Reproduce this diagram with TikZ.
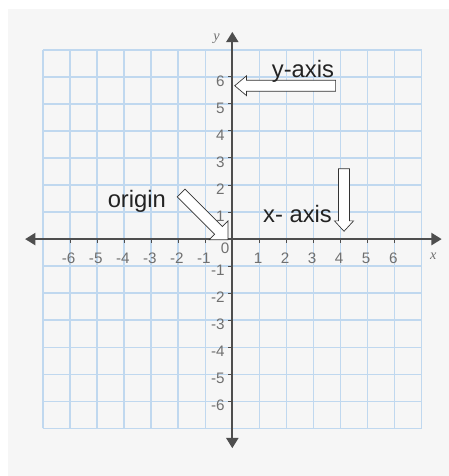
\documentclass[tikz,border=0pt]{standalone}
\usepackage{fontspec}
\setmainfont{Liberation Sans}
\newfontfamily\axisletterfont{Liberation Serif}
\usepackage{tikz}
\usetikzlibrary{shapes.arrows, arrows.meta}
\definecolor{panel}{RGB}{246, 246, 246}
\definecolor{gridblue}{RGB}{192, 216, 239}
\definecolor{axisgray}{RGB}{78, 78, 78}
\definecolor{ticktext}{RGB}{112, 112, 112}
\definecolor{notetext}{RGB}{35, 35, 35}

\begin{document}
\begin{tikzpicture}[
        ticklabel/.style={text=ticktext, font=\fontsize{16}{18}\selectfont, inner sep=0pt},
        note/.style={text=notetext, font=\fontsize{25}{28}\selectfont, inner sep=0pt, anchor=base},
        blockarrow/.style={single arrow, draw=black!80, fill=white, line width=0.7pt, inner xsep=0pt, inner ysep=0.19cm, anchor=tip},
        axistip/.tip={Triangle[length=0.38cm, width=0.45cm]}
    ]
        \useasboundingbox (-8.59,-8.76) rectangle (8.01,8.84);
        \fill[panel] (-8.29,-8.76) rectangle (8.01,8.5);
        \draw[gridblue, line width=1.6pt] (-7,-7) grid (7,7);

        % axes
        \coordinate (xmin) at (-7.66,0);
        \coordinate (xmax) at (7.74,0);
        \coordinate (ymin) at (0,-7.73);
        \coordinate (ymax) at (0,7.66);
        \draw[axisgray, line width=2pt, axistip-axistip] (xmin) -- (xmax);
        \draw[axisgray, line width=2pt, axistip-axistip] (ymin) -- (ymax);

        \foreach \k in {-6,...,-1,1,2,...,6} {
            \draw[axisgray, line width=1pt] (\k,0) -- (\k,-0.15);
            \draw[axisgray, line width=1pt] (0,\k) -- (-0.15,\k);
            \node[ticklabel] at (\k-0.05,-0.71) {\k};
            \node[ticklabel, anchor=east] at (-0.28,\k-0.15) {\k};
        }
        \node[ticklabel] (zero) at (-0.27,-0.34) {0};
        \node[text=ticktext, font={\axisletterfont\itshape\fontsize{15}{16}\selectfont}] (ylabel) at (-0.58,7.42) {y};
        \node[text=ticktext, font={\axisletterfont\itshape\fontsize{15}{16}\selectfont}] (xlabel) at (7.43,-0.65) {x};

        % block arrows
        \node[blockarrow, single arrow head extend=0.165cm, single arrow tip angle=80, minimum height=3.73cm, rotate=180] (yarrow) at (0.07,5.67) {};
        \node[blockarrow, single arrow head extend=0.15cm, single arrow tip angle=85, minimum height=2.31cm, rotate=-90] (xarrow) at (4.13,0.27) {};
        \node[blockarrow, single arrow head extend=0.29cm, minimum height=2.45cm, rotate=-45] (oarrow) at (-0.15,-0.04) {};

        \node[note] (ynote) at (2.61,5.99) {y-axis};
        \node[note] (xnote) at (2.41,0.6) {x- axis};
        \node[note] (onote) at (-3.53,1.15) {origin};
\end{tikzpicture}
\end{document}
